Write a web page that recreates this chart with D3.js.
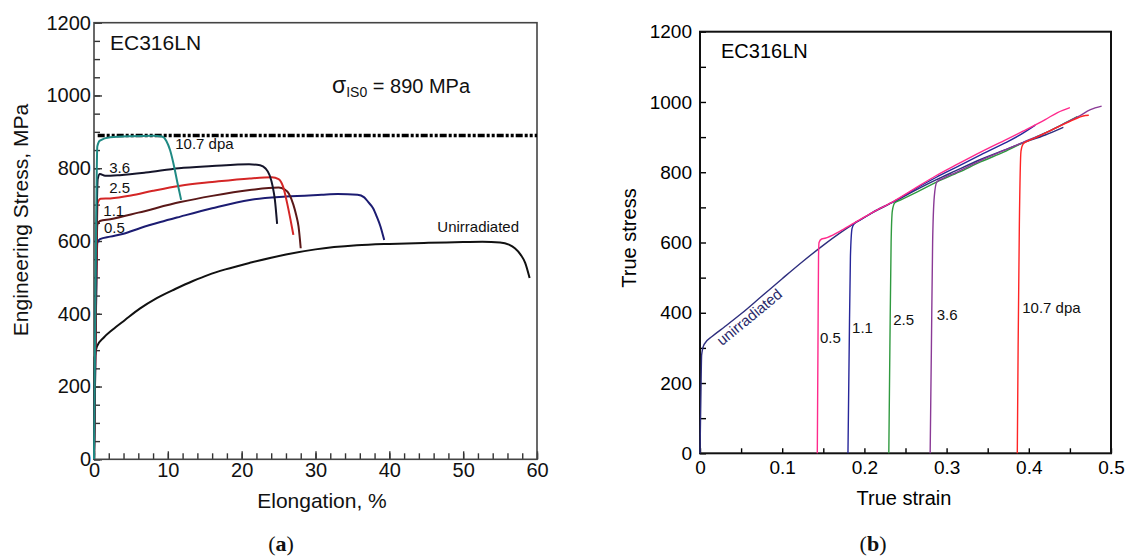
<!DOCTYPE html>
<html>
<head>
<meta charset="utf-8">
<script src="https://cdn.jsdelivr.net/npm/d3@7"></script>
<style>
    body { margin: 0; padding: 0; background: #fff; }
    svg { display: block; font-family: "Liberation Sans", Arial, sans-serif; }
</style>
</head>
<body>
<script>
// ---- panel (a): engineering stress vs elongation (%)
const unirrA = [[0,0],[0.05,150],[0.1,280],[0.4,310],[1.3,334],[2.5,356],[4.2,383],[6.2,414],[8.5,443],[11,468],[13.4,490],[15.5,507],[17.8,522],[21.1,540],[26,563],[30,577],[35.6,588],[40,592],[45.3,595],[50,597],[52.6,598],[55,596],[56.2,590],[57,580],[57.8,562],[58.4,540],[59,498]];
const dpa05A = [[0,0],[0.2,300],[0.45,595],[0.8,605],[2.2,612],[4,620],[6.2,635],[9,652],[11.7,667],[16,690],[21.1,713],[26,722],[30.8,727],[33,729],[35.7,727],[36.6,720],[37.1,708],[37.8,690],[38.3,667],[38.8,640],[39.3,603]];
const dpa11A = [[0,0],[0.2,300],[0.45,645],[0.8,655],[2.2,660],[6,678],[11.7,707],[16,724],[21.1,740],[25,747],[25.8,742],[26.4,730],[27,700],[27.4,670],[27.7,640],[28,580]];
const dpa25A = [[0,0],[0.2,350],[0.5,705],[0.9,716],[2.2,717],[5,725],[8,738],[11.7,752],[16,762],[21.1,772],[24.1,775],[25,770],[25.6,750],[26.2,700],[26.6,660],[27,617]];
const dpa36A = [[0,0],[0.2,400],[0.5,770],[0.8,784],[1.5,779],[3.5,781],[7,788],[11.5,800],[16,806],[21,811],[22.5,808],[23.2,800],[23.8,780],[24.2,750],[24.5,713],[24.8,647]];
const dpa107A = [[0,0],[0.2,450],[0.45,860],[0.8,876],[2.2,885],[5,888],[8,889],[9.2,887],[9.8,875],[10.3,850],[10.9,800],[11.3,760],[11.8,713]];
const isoStressA = 890;

// ---- panel (b): true stress vs true strain
const unirrB = [[0,0],[0.001,150],[0.002,280],[0.005,310],[0.015,333],[0.03,360],[0.05,397],[0.075,447],[0.1,497],[0.125,546],[0.151,594],[0.185,650],[0.21,685],[0.236,716],[0.26,746],[0.287,778],[0.31,803],[0.342,837],[0.37,863],[0.393,884],[0.42,906],[0.442,928]];
const dpa05B = [[0.1427,0],[0.1435,300],[0.1442,560],[0.1448,600],[0.148,610],[0.152,612],[0.17,632],[0.185,652],[0.21,686],[0.236,718],[0.26,752],[0.287,790],[0.315,825],[0.342,858],[0.37,890],[0.393,917],[0.42,950],[0.435,970],[0.45,984]];
const dpa11B = [[0.180,0],[0.1815,300],[0.183,560],[0.185,640],[0.188,655],[0.195,664],[0.21,686],[0.236,717],[0.26,750],[0.287,785],[0.315,818],[0.342,850],[0.37,882],[0.39,907],[0.408,934]];
const dpa25B = [[0.2297,0],[0.231,300],[0.2325,600],[0.234,690],[0.237,713],[0.245,722],[0.265,745],[0.287,771],[0.315,800],[0.342,830],[0.37,858],[0.393,884],[0.42,912],[0.44,935],[0.459,958]];
const dpa36B = [[0.280,0],[0.2815,300],[0.283,600],[0.285,730],[0.288,772],[0.295,782],[0.315,803],[0.342,834],[0.37,862],[0.393,885],[0.42,912],[0.44,935],[0.46,958],[0.475,978],[0.4886,988]];
const dpa107B = [[0.386,0],[0.387,300],[0.3885,650],[0.3905,860],[0.393,880],[0.398,888],[0.41,900],[0.425,917],[0.44,934],[0.455,950],[0.466,960],[0.473,962]];

const ticksA_x = d3.range(0, 61, 10);
const ticksA_y = d3.range(0, 1201, 200);
const ticksB_x = [0, 0.1, 0.2, 0.3, 0.4, 0.5];
const ticksB_y = d3.range(0, 1201, 200);

const width = 1127, height = 557;
const svg = d3.select('body').append('svg')
    .attr('width', width)
    .attr('height', height)
    .attr('viewBox', [0, 0, width, height]);

// ================= panel (a) =================
const xA = d3.scaleLinear([0, 60], [94, 537]);
const yA = d3.scaleLinear([0, 1200], [459.3, 22.7]);
const gA = svg.append('g');

// ticks (inside)
gA.append('g')
    .attr('transform', `translate(0,${yA(0)})`)
    .call(d3.axisBottom(xA).tickValues(d3.range(0, 61, 2)).tickSize(-6).tickFormat(''))
    .call(g => g.select('.domain').remove());
gA.append('g')
    .attr('transform', `translate(0,${yA(0)})`)
    .call(d3.axisBottom(xA).tickValues(ticksA_x).tickSize(-8).tickPadding(3).tickFormat(d3.format('d')))
    .call(g => g.select('.domain').remove())
    .call(g => g.selectAll('text').attr('font-size', 20).attr('fill', '#111'));
gA.append('g')
    .attr('transform', `translate(${xA(0)},0)`)
    .call(d3.axisLeft(yA).tickValues(d3.range(0, 1201, 50)).tickSize(-6).tickFormat(''))
    .call(g => g.select('.domain').remove());
gA.append('g')
    .attr('transform', `translate(${xA(0)},0)`)
    .call(d3.axisLeft(yA).tickValues(ticksA_y).tickSize(-8).tickPadding(3).tickFormat(d3.format('d')))
    .call(g => g.select('.domain').remove())
    .call(g => g.selectAll('text').attr('font-size', 20).attr('fill', '#111'));
gA.selectAll('.tick line').attr('stroke', '#333').attr('stroke-width', 1.4);

gA.append('rect')
    .attr('x', xA(0)).attr('y', yA(1200))
    .attr('width', xA(60) - xA(0)).attr('height', yA(0) - yA(1200))
    .attr('fill', 'none').attr('stroke', '#444').attr('stroke-width', 1.6);

// sigma_IS0 line
gA.append('line')
    .attr('x1', xA(0.5)).attr('x2', xA(60))
    .attr('y1', yA(isoStressA)).attr('y2', yA(isoStressA))
    .attr('stroke', '#000').attr('stroke-width', 3.5)
    .attr('stroke-dasharray', '7,2,3,2,3,2');

const lineA = d3.line().x(d => xA(d[0])).y(d => yA(d[1])).curve(d3.curveMonotoneX);
const curvesA = [
    { data: unirrA, color: '#111111' },
    { data: dpa05A, color: '#1c1c72' },
    { data: dpa11A, color: '#5a1818' },
    { data: dpa25A, color: '#d42626' },
    { data: dpa36A, color: '#15152a' },
    { data: dpa107A, color: '#1f8a84' }
];
gA.selectAll('path.curve')
    .data(curvesA)
    .join('path')
        .attr('class', 'curve')
        .attr('d', d => lineA(d.data))
        .attr('fill', 'none')
        .attr('stroke', d => d.color)
        .attr('stroke-width', 2);

const labelsA = [
    { t: '3.6', e: 2.07, s: 786 },
    { t: '2.5', e: 2.07, s: 731 },
    { t: '1.1', e: 1.26, s: 669 },
    { t: '0.5', e: 1.35, s: 621 },
    { t: '10.7 dpa', e: 11.0, s: 852 },
    { t: 'Unirradiated', e: 46.5, s: 625 }
];
gA.selectAll('text.lab')
    .data(labelsA)
    .join('text')
        .attr('class', 'lab')
        .attr('x', d => xA(d.e))
        .attr('y', d => yA(d.s))
        .attr('font-size', 15)
        .attr('fill', '#111')
        .text(d => d.t);

gA.append('text')
    .attr('x', 110).attr('y', 50)
    .attr('font-size', 21).attr('fill', '#111')
    .text('EC316LN');

const sig = gA.append('text')
    .attr('x', 332).attr('y', 93)
    .attr('font-size', 20).attr('fill', '#111');
sig.append('tspan').attr('font-size', 23).text('σ');
sig.append('tspan').attr('font-size', 14).attr('dy', 4).text('IS0');
sig.append('tspan').attr('dy', -4).text(' = 890 MPa');

gA.append('text')
    .attr('transform', 'translate(28,220) rotate(-90)')
    .attr('text-anchor', 'middle')
    .attr('font-size', 21).attr('fill', '#111')
    .text('Engineering Stress, MPa');
gA.append('text')
    .attr('x', 322).attr('y', 508)
    .attr('text-anchor', 'middle')
    .attr('font-size', 21).attr('fill', '#111')
    .text('Elongation, %');

// ================= panel (b) =================
const xB = d3.scaleLinear([0, 0.5], [700, 1111]);
const yB = d3.scaleLinear([0, 1200], [453.3, 31.7]);
const gB = svg.append('g');

gB.append('g')
    .attr('transform', `translate(0,${yB(0)})`)
    .call(d3.axisBottom(xB).tickValues(d3.range(0, 0.501, 0.05)).tickSize(-5).tickFormat(''))
    .call(g => g.select('.domain').remove());
gB.append('g')
    .attr('transform', `translate(0,${yB(0)})`)
    .call(d3.axisBottom(xB).tickValues(ticksB_x).tickSize(0).tickPadding(7).tickFormat(d => d === 0 ? '0' : d3.format('.1f')(d)))
    .call(g => g.select('.domain').remove())
    .call(g => g.selectAll('text').attr('font-size', 19).attr('fill', '#000'));
gB.append('g')
    .attr('transform', `translate(${xB(0)},0)`)
    .call(d3.axisLeft(yB).tickValues(d3.range(0, 1201, 100)).tickSize(-6).tickFormat(''))
    .call(g => g.select('.domain').remove());
gB.append('g')
    .attr('transform', `translate(${xB(0)},0)`)
    .call(d3.axisLeft(yB).tickValues(ticksB_y).tickSize(0).tickPadding(8).tickFormat(d3.format('d')))
    .call(g => g.select('.domain').remove())
    .call(g => g.selectAll('text').attr('font-size', 19).attr('fill', '#000'));
gB.selectAll('.tick line').attr('stroke', '#000').attr('stroke-width', 1.4);

gB.append('rect')
    .attr('x', xB(0)).attr('y', yB(1200))
    .attr('width', xB(0.5) - xB(0)).attr('height', yB(0) - yB(1200))
    .attr('fill', 'none').attr('stroke', '#111').attr('stroke-width', 2);

const lineB = d3.line().x(d => xB(d[0])).y(d => yB(d[1])).curve(d3.curveMonotoneX);
const curvesB = [
    { data: unirrB, color: '#2e2e7e' },
    { data: dpa25B, color: '#2f9a3f' },
    { data: dpa36B, color: '#8a3a96' },
    { data: dpa107B, color: '#ff2424' },
    { data: dpa11B, color: '#26269a' },
    { data: dpa05B, color: '#ff2a8c' }
];
gB.selectAll('path.curve')
    .data(curvesB)
    .join('path')
        .attr('class', 'curve')
        .attr('d', d => lineB(d.data))
        .attr('fill', 'none')
        .attr('stroke', d => d.color)
        .attr('stroke-width', 1.4);

const labelsB = [
    { t: '0.5', e: 0.146, s: 313 },
    { t: '1.1', e: 0.185, s: 342 },
    { t: '2.5', e: 0.235, s: 365 },
    { t: '3.6', e: 0.288, s: 379 },
    { t: '10.7 dpa', e: 0.392, s: 399 }
];
gB.selectAll('text.lab')
    .data(labelsB)
    .join('text')
        .attr('class', 'lab')
        .attr('x', d => xB(d.e))
        .attr('y', d => yB(d.s))
        .attr('font-size', 15)
        .attr('fill', '#111')
        .text(d => d.t);

gB.append('text')
    .attr('transform', `translate(${xB(0.061)},${yB(385)}) rotate(-39.5)`)
    .attr('text-anchor', 'middle')
    .attr('dominant-baseline', 'middle')
    .attr('font-size', 15).attr('fill', '#2a2a6a')
    .text('unirradiated');

gB.append('text')
    .attr('x', 721).attr('y', 58)
    .attr('font-size', 20).attr('fill', '#000')
    .text('EC316LN');

gB.append('text')
    .attr('transform', 'translate(636,238) rotate(-90)')
    .attr('text-anchor', 'middle')
    .attr('font-size', 20).attr('fill', '#000')
    .text('True stress');
gB.append('text')
    .attr('x', 904).attr('y', 505)
    .attr('text-anchor', 'middle')
    .attr('font-size', 20).attr('fill', '#000')
    .text('True strain');

// ---- captions
[['a', 281], ['b', 873]].forEach(([c, x]) => {
    const t = svg.append('text')
        .attr('x', x).attr('y', 551)
        .attr('text-anchor', 'middle')
        .attr('font-family', '"Liberation Serif", "DejaVu Serif", serif')
        .attr('font-size', 22).attr('fill', '#111');
    t.append('tspan').text('(');
    t.append('tspan').attr('font-weight', 'bold').text(c);
    t.append('tspan').text(')');
});
</script>
</body>
</html>
